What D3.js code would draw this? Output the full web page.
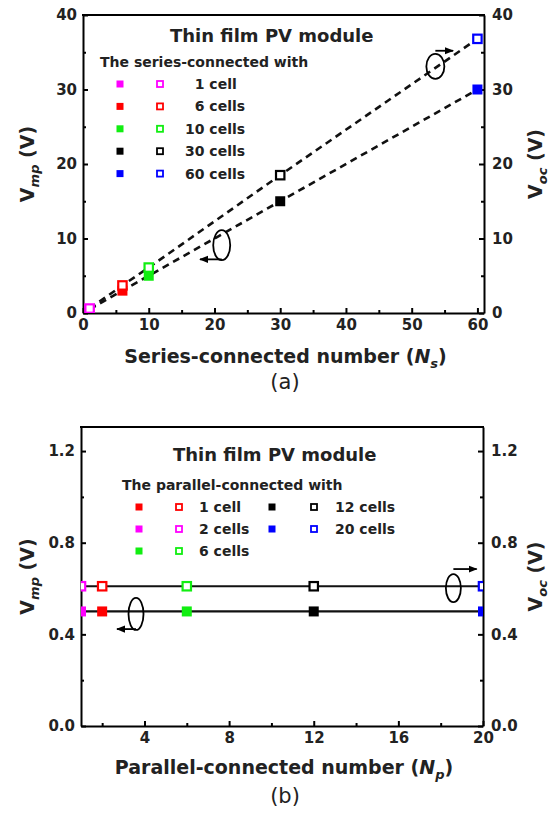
<!DOCTYPE html>
<html>
<head>
<meta charset="utf-8">
<script src="https://cdn.jsdelivr.net/npm/d3@7"></script>
<style>
  body { margin: 0; background: #fff; }
  text { font-family: "DejaVu Sans", Verdana, sans-serif; }
</style>
</head>
<body>
<div id="chart"></div>
<script>

// panel (a): series-connected
const seriesN = [1, 6, 10, 30, 60];
const seriesVmp = [0.5, 3.0, 5.0, 15.0, 30.0];
const seriesVoc = [0.6, 3.7, 6.1, 18.5, 36.8];
const seriesLabels = ['  1 cell', '  6 cells', '10 cells', '30 cells', '60 cells'];
const seriesColors = ['#ff00ff', '#ff0000', '#11ee11', '#000000', '#0000ff'];
const seriesXTicks = [0, 10, 20, 30, 40, 50, 60];
const seriesXMinor = [5, 15, 25, 35, 45, 55];
const seriesYTicks = [0, 10, 20, 30, 40];
const seriesYMinor = [5, 15, 25, 35];

// panel (b): parallel-connected
const parallelN = [2, 1, 6, 12, 20];
const parallelVmp = [0.5, 0.5, 0.5, 0.5, 0.5];
const parallelVoc = [0.61, 0.61, 0.61, 0.61, 0.61];
const parallelLabels = ['1 cell', '2 cells', '6 cells', '12 cells', '20 cells'];
const parallelColors = ['#ff0000', '#ff00ff', '#11ee11', '#000000', '#0000ff'];
const parallelXTicks = [4, 8, 12, 16, 20];
const parallelXMinor = [2, 6, 10, 14, 18];
const parallelYTicks = [0.0, 0.4, 0.8, 1.2];
const parallelYMinor = [0.2, 0.6, 1.0];

// circled-arrow annotations (data units): ellipse centre, arrow y, arrow tip x
const seriesNotes = [
    { cx: 21.1, cy: 9.1, ay: 7.2, ax: 17.8 },
    { cx: 53.6, cy: 33.1, ay: 35.2, ax: 56.3 }
];
const parallelNotes = [
    { cx: 3.6, cy: 0.489, ay: 0.423, ax: 2.7 },
    { cx: 18.6, cy: 0.602, ay: 0.685, ax: 19.7 }
];

const width = 550;
const height = 813;
// ellipse radii in px, same order as the notes
const seriesNoteR = [[8.5, 15], [9, 12.5]];
const parallelNoteR = [[7.5, 16], [7.5, 14]];

const svg = d3.select('#chart').append('svg')
    .attr('width', width)
    .attr('height', height);

const defs = svg.append('defs');
defs.append('marker')
    .attr('id', 'arrow')
    .attr('viewBox', '0 0 10 10')
    .attr('refX', 9).attr('refY', 5)
    .attr('markerWidth', 5).attr('markerHeight', 5)
    .attr('orient', 'auto')
    .append('path')
    .attr('d', 'M0,1 L10,5 L0,9 z')
    .attr('fill', '#000');

const drawPanel = (cfg) => {
    const x = d3.scaleLinear().domain(cfg.xDomain).range([cfg.left, cfg.right]);
    const y = d3.scaleLinear().domain(cfg.yDomain).range([cfg.bottom, cfg.top]);
    const g = svg.append('g');

    defs.append('clipPath').attr('id', cfg.id + '-clip')
        .append('rect')
        .attr('x', cfg.left).attr('y', cfg.top)
        .attr('width', cfg.right - cfg.left).attr('height', cfg.bottom - cfg.top);

    const styleAxis = (a) => {
        a.select('.domain').attr('stroke-width', 2);
        a.selectAll('.tick line').attr('stroke-width', 2);
        a.selectAll('.tick text')
            .style('font-size', '15px')
            .style('font-weight', 'bold')
            .attr('fill', '#222');
    };

    // bottom axis
    g.append('g').attr('transform', `translate(0,${cfg.bottom})`)
        .call(d3.axisBottom(x).tickValues(cfg.xTicks).tickFormat(cfg.xFormat)
            .tickSizeInner(-5).tickSizeOuter(0).tickPadding(6))
        .call(styleAxis);
    g.append('g').attr('transform', `translate(0,${cfg.bottom})`)
        .call(d3.axisBottom(x).tickValues(cfg.xMinor).tickFormat('').tickSize(-3))
        .call(a => a.select('.domain').remove())
        .call(a => a.selectAll('.tick line').attr('stroke-width', 2));

    // left and right axes
    [['left', d3.axisLeft, cfg.left], ['right', d3.axisRight, cfg.right]].forEach(([side, fn, pos]) => {
        g.append('g').attr('transform', `translate(${pos},0)`)
            .call(fn(y).tickValues(cfg.yTicks).tickFormat(cfg.yFormat)
                .tickSizeInner(-5).tickSizeOuter(0).tickPadding(side == 'left' ? 6 : 8))
            .call(styleAxis);
        g.append('g').attr('transform', `translate(${pos},0)`)
            .call(fn(y).tickValues(cfg.yMinor).tickFormat('').tickSize(-3))
            .call(a => a.select('.domain').remove())
            .call(a => a.selectAll('.tick line').attr('stroke-width', 2));
    });

    // top frame
    g.append('line')
        .attr('x1', cfg.left - 1).attr('x2', cfg.right + 1)
        .attr('y1', cfg.top).attr('y2', cfg.top)
        .attr('stroke', '#000').attr('stroke-width', 2);

    const plot = g.append('g').attr('clip-path', `url(#${cfg.id}-clip)`);

    // lines
    const line = d3.line().x(d => x(d[0])).y(d => y(d[1]));
    [cfg.vmp, cfg.voc].forEach(vals => {
        const pts = d3.zip(cfg.n, vals).sort((a, b) => a[0] - b[0]);
        const ends = cfg.dashed ? pts : [[cfg.xDomain[0], pts[0][1]], [cfg.xDomain[1], pts[pts.length - 1][1]]];
        plot.append('path')
            .attr('d', line(ends))
            .attr('fill', 'none')
            .attr('stroke', '#111')
            .attr('stroke-width', cfg.dashed ? 2.6 : 2.2)
            .attr('stroke-dasharray', cfg.dashed ? '7,5' : null);
    });

    // filled squares (Vmp), then open squares (Voc)
    plot.selectAll('.filled').data(d3.range(cfg.n.length)).join('rect')
        .attr('class', 'filled')
        .attr('x', i => x(cfg.n[i]) - 5).attr('y', i => y(cfg.vmp[i]) - 5)
        .attr('width', 10).attr('height', 10)
        .attr('fill', i => cfg.colors[i]);
    plot.selectAll('.open').data(d3.range(cfg.n.length)).join('rect')
        .attr('class', 'open')
        .attr('x', i => x(cfg.n[i]) - 4.2).attr('y', i => y(cfg.voc[i]) - 4.2)
        .attr('width', 8.4).attr('height', 8.4)
        .attr('fill', '#fff')
        .attr('stroke', i => cfg.colors[i])
        .attr('stroke-width', 2.2);

    // circled arrows
    cfg.notes.forEach((nt, i) => {
        g.append('ellipse')
            .attr('cx', x(nt.cx)).attr('cy', y(nt.cy))
            .attr('rx', cfg.noteR[i][0]).attr('ry', cfg.noteR[i][1])
            .attr('fill', 'none').attr('stroke', '#000').attr('stroke-width', 1.8);
        g.append('line')
            .attr('x1', x(nt.cx)).attr('y1', y(nt.ay))
            .attr('x2', x(nt.ax)).attr('y2', y(nt.ay))
            .attr('stroke', '#000').attr('stroke-width', 1.8)
            .attr('marker-end', 'url(#arrow)');
    });

    // legend
    const lg = cfg.legend;
    g.append('text')
        .attr('x', lg.titleX).attr('y', lg.titleY)
        .style('font-size', '18px').style('font-weight', 'bold').attr('fill', '#222')
        .text('Thin film PV module');
    g.append('text')
        .attr('x', lg.subX).attr('y', lg.subY)
        .style('font-size', '14px').style('font-weight', 'bold').attr('fill', '#222')
        .text(lg.subText);
    cfg.labels.forEach((lab, i) => {
        const col = Math.floor(i / lg.rows);
        const row = i % lg.rows;
        const cy = lg.rowY + row * lg.rowGap;
        const c = lg.cols[col];
        g.append('rect')
            .attr('x', c[0] - 3.5).attr('y', cy - 3.5)
            .attr('width', 7).attr('height', 7)
            .attr('fill', cfg.colors[i]);
        g.append('rect')
            .attr('x', c[1] - 3).attr('y', cy - 3)
            .attr('width', 6).attr('height', 6)
            .attr('fill', '#fff').attr('stroke', cfg.colors[i]).attr('stroke-width', 1.8);
        g.append('text')
            .attr('x', c[2]).attr('y', cy + 5)
            .style('font-size', '14px').style('font-weight', 'bold')
            .style('white-space', 'pre').attr('fill', '#222')
            .text(lab);
    });

    // axis titles
    const xt = g.append('text')
        .attr('x', (cfg.left + cfg.right) / 2 + 2).attr('y', cfg.xTitleY)
        .attr('text-anchor', 'middle')
        .style('font-size', '19px').style('font-weight', 'bold').attr('fill', '#222');
    xt.append('tspan').text(cfg.xTitle + ' (');
    xt.append('tspan').style('font-style', 'italic').text('N');
    xt.append('tspan').style('font-style', 'italic').style('font-size', '13px').attr('dy', 5).text(cfg.xSub);
    xt.append('tspan').attr('dy', -5).text(')');

    [['mp', 34], ['oc', 542]].forEach(([sub, px]) => {
        const t = g.append('text')
            .attr('transform', `translate(${px},${(cfg.top + cfg.bottom) / 2}) rotate(-90)`)
            .attr('text-anchor', 'middle')
            .style('font-size', '19px').style('font-weight', 'bold').attr('fill', '#222');
        t.append('tspan').text('V');
        t.append('tspan').style('font-style', 'italic').style('font-size', '13px').attr('dy', 5).text(sub);
        t.append('tspan').attr('dy', -5).text(' (V)');
    });

    g.append('text')
        .attr('x', 285).attr('y', cfg.tagY)
        .attr('text-anchor', 'middle')
        .style('font-size', '21px').attr('fill', '#222')
        .text(cfg.tag);
};

drawPanel({
    id: 'a', left: 83, right: 484, top: 15, bottom: 313,
    xDomain: [0, 61], yDomain: [0, 40],
    xTicks: seriesXTicks, xMinor: seriesXMinor, yTicks: seriesYTicks, yMinor: seriesYMinor,
    xFormat: d3.format('d'), yFormat: d3.format('d'),
    n: seriesN, vmp: seriesVmp, voc: seriesVoc, colors: seriesColors, labels: seriesLabels,
    dashed: true, notes: seriesNotes, noteR: seriesNoteR,
    legend: {
        titleX: 170, titleY: 42, subX: 100, subY: 67, subText: 'The series-connected with',
        rows: 5, rowY: 84, rowGap: 22.4, cols: [[120, 160, 185]]
    },
    xTitle: 'Series-connected number', xSub: 's', xTitleY: 363,
    tag: '(a)', tagY: 389
});

drawPanel({
    id: 'b', left: 81, right: 483, top: 427, bottom: 726,
    xDomain: [1, 20], yDomain: [0, 1.305],
    xTicks: parallelXTicks, xMinor: parallelXMinor, yTicks: parallelYTicks, yMinor: parallelYMinor,
    xFormat: d3.format('d'), yFormat: d3.format('.1f'),
    n: parallelN, vmp: parallelVmp, voc: parallelVoc, colors: parallelColors, labels: parallelLabels,
    dashed: false, notes: parallelNotes, noteR: parallelNoteR,
    legend: {
        titleX: 173, titleY: 461, subX: 122, subY: 490, subText: 'The parallel-connected with',
        rows: 3, rowY: 507, rowGap: 22, cols: [[139, 179, 199], [272, 314, 335]]
    },
    xTitle: 'Parallel-connected number', xSub: 'p', xTitleY: 774,
    tag: '(b)', tagY: 803
});
</script>
</body>
</html>
